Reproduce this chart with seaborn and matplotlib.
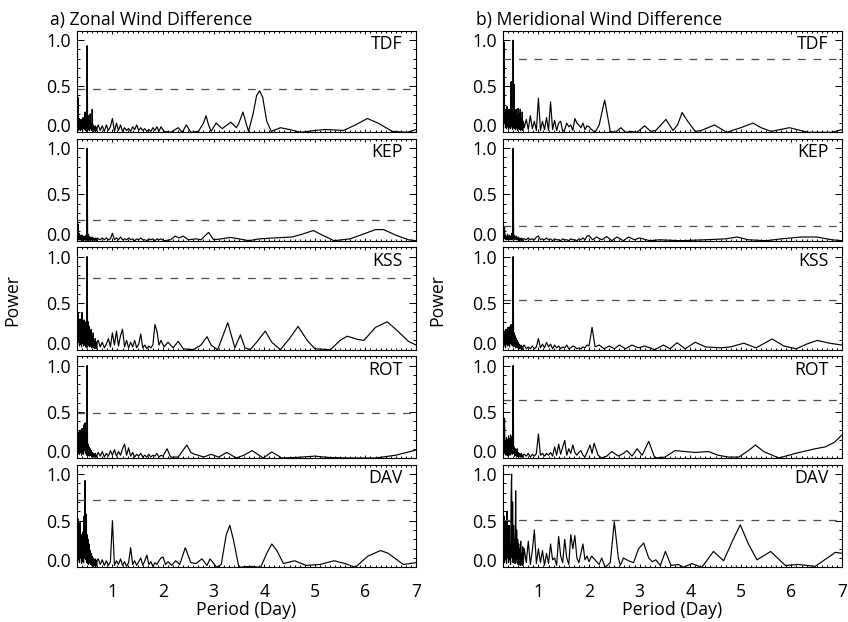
import matplotlib
matplotlib.use("Agg")
import matplotlib.pyplot as plt
import seaborn as sns
import pandas as pd
from matplotlib.ticker import FixedLocator, MultipleLocator, FixedFormatter

# ---------------- data ----------------
STATIONS = ["TDF", "KEP", "KSS", "ROT", "DAV"]
TITLES = ["a) Zonal Wind Difference", "b) Meridional Wind Difference"]
X_TICKS = [1, 2, 3, 4, 5, 6, 7]
Y_TICKS = [0.0, 0.5, 1.0]
Y_TICK_LABELS = ["0.0", "0.5", "1.0"]

# significance levels (dashed lines)
ZONAL_SIG = [0.47, 0.22, 0.765, 0.485, 0.725]
MERID_SIG = [0.80, 0.155, 0.53, 0.628, 0.51]

# period grids (days) for the short-period part of the periodograms
DENSE_P = [0.30, 0.31, 0.32, 0.33, 0.34, 0.35, 0.36, 0.37, 0.38, 0.39,
           0.40, 0.41, 0.42, 0.43, 0.44, 0.45, 0.46, 0.47, 0.48, 0.49,
           0.50, 0.51, 0.52, 0.53, 0.54, 0.55, 0.56, 0.57, 0.58, 0.59,
           0.60, 0.61, 0.62, 0.63, 0.64, 0.65, 0.66, 0.67, 0.68, 0.69,
           0.70]
MID_P = [0.72, 0.76, 0.80, 0.84, 0.88, 0.92, 0.96, 1.00, 1.04, 1.08,
         1.12, 1.16, 1.20, 1.24, 1.28, 1.32, 1.36, 1.40, 1.44, 1.48,
         1.52, 1.56, 1.60, 1.64, 1.68, 1.72, 1.76, 1.80, 1.84, 1.88,
         1.92, 1.96]

# ---- zonal ----
ZON_TDF_DENSE = [0.40, 0.05, 0.38, 0.02, 0.15, 0.03, 0.12, 0.02, 0.14, 0.03,
                 0.10, 0.02, 0.16, 0.04, 0.12, 0.03, 0.22, 0.02, 0.10, 0.01,
                 0.94, 0.02, 0.18, 0.03, 0.12, 0.02, 0.20, 0.04, 0.10, 0.02,
                 0.25, 0.03, 0.08, 0.01, 0.06, 0.02, 0.07, 0.01, 0.05, 0.02,
                 0.06]
ZON_TDF_MID = [0.08, 0.02, 0.07, 0.01, 0.08, 0.02, 0.06, 0.15, 0.01, 0.10,
               0.02, 0.08, 0.01, 0.05, 0.02, 0.04, 0.01, 0.06, 0.03, 0.08,
               0.02, 0.05, 0.02, 0.04, 0.01, 0.03, 0.01, 0.05, 0.02, 0.06,
               0.01, 0.06]
ZON_TDF_LONG = [(2.02, 0.01), (2.15, 0.00), (2.30, 0.05), (2.38, 0.00), (2.46, 0.08),
                (2.55, 0.00), (2.70, 0.01), (2.80, 0.10), (2.85, 0.18), (2.90, 0.08),
                (2.95, 0.01), (3.05, 0.10), (3.17, 0.04), (3.34, 0.11), (3.45, 0.05),
                (3.50, 0.10), (3.58, 0.22), (3.64, 0.10), (3.69, 0.01), (3.78, 0.20),
                (3.85, 0.40), (3.91, 0.45), (3.97, 0.38), (4.05, 0.12), (4.14, 0.01),
                (4.32, 0.05), (4.50, 0.03), (4.72, 0.00), (5.00, 0.02), (5.21, 0.03),
                (5.40, 0.025), (5.57, 0.02), (5.80, 0.08), (6.04, 0.15), (6.25, 0.10),
                (6.53, 0.01), (6.83, 0.00), (7.00, 0.03)]

ZON_KEP_DENSE = [0.21, 0.02, 0.18, 0.01, 0.08, 0.01, 0.06, 0.01, 0.05, 0.00,
                 0.06, 0.01, 0.04, 0.00, 0.05, 0.01, 0.04, 0.00, 0.06, 0.01,
                 1.00, 0.01, 0.07, 0.00, 0.05, 0.01, 0.04, 0.00, 0.03, 0.01,
                 0.04, 0.00, 0.03, 0.01, 0.02, 0.00, 0.03, 0.01, 0.02, 0.00,
                 0.03]
ZON_KEP_MID = [0.02, 0.01, 0.03, 0.01, 0.03, 0.01, 0.02, 0.08, 0.01, 0.03,
               0.01, 0.04, 0.01, 0.02, 0.01, 0.03, 0.01, 0.02, 0.00, 0.02,
               0.01, 0.03, 0.01, 0.01, 0.00, 0.02, 0.01, 0.02, 0.00, 0.02,
               0.01, 0.02]
ZON_KEP_LONG = [(2.02, 0.00), (2.15, 0.01), (2.24, 0.05), (2.32, 0.03), (2.40, 0.05),
                (2.50, 0.01), (2.65, 0.02), (2.75, 0.01), (2.90, 0.09), (3.00, 0.01),
                (3.15, 0.02), (3.33, 0.035), (3.50, 0.02), (3.70, 0.00), (3.90, 0.02),
                (4.20, 0.03), (4.55, 0.04), (4.75, 0.07), (4.97, 0.11), (5.15, 0.06),
                (5.38, 0.00), (5.70, 0.02), (5.95, 0.07), (6.20, 0.12), (6.36, 0.12),
                (6.60, 0.06), (6.85, 0.01), (7.00, 0.00)]

ZON_KSS_DENSE = [0.35, 0.05, 0.40, 0.08, 0.28, 0.04, 0.33, 0.06, 0.30, 0.03,
                 0.40, 0.07, 0.25, 0.04, 0.32, 0.05, 0.22, 0.03, 0.30, 0.02,
                 1.00, 0.03, 0.30, 0.05, 0.25, 0.03, 0.20, 0.04, 0.22, 0.02,
                 0.15, 0.03, 0.18, 0.02, 0.10, 0.01, 0.12, 0.02, 0.08, 0.01,
                 0.09]
ZON_KSS_MID = [0.10, 0.03, 0.08, 0.02, 0.06, 0.12, 0.03, 0.18, 0.05, 0.20,
               0.04, 0.15, 0.22, 0.03, 0.10, 0.02, 0.08, 0.03, 0.10, 0.02,
               0.06, 0.17, 0.02, 0.05, 0.01, 0.04, 0.02, 0.05, 0.27, 0.20,
               0.05, 0.10]
ZON_KSS_LONG = [(2.02, 0.03), (2.10, 0.08), (2.20, 0.02), (2.30, 0.09), (2.40, 0.01),
                (2.60, 0.00), (2.75, 0.05), (2.87, 0.14), (2.95, 0.05), (3.08, 0.00),
                (3.28, 0.29), (3.42, 0.02), (3.53, 0.16), (3.62, 0.02), (3.72, 0.00),
                (3.85, 0.08), (4.02, 0.20), (4.15, 0.08), (4.32, 0.00), (4.50, 0.12),
                (4.67, 0.25), (4.85, 0.10), (5.00, 0.01), (5.31, 0.00), (5.50, 0.10),
                (5.64, 0.145), (5.85, 0.11), (5.97, 0.10), (6.20, 0.24), (6.43, 0.30),
                (6.60, 0.22), (6.85, 0.09), (7.00, 0.05)]

ZON_ROT_DENSE = [0.20, 0.03, 0.28, 0.05, 0.22, 0.04, 0.30, 0.06, 0.26, 0.03,
                 0.32, 0.05, 0.24, 0.04, 0.36, 0.08, 0.38, 0.05, 0.30, 0.03,
                 1.00, 0.02, 0.15, 0.03, 0.12, 0.02, 0.10, 0.03, 0.08, 0.01,
                 0.06, 0.02, 0.05, 0.01, 0.04, 0.01, 0.05, 0.01, 0.03, 0.01,
                 0.04]
ZON_ROT_MID = [0.06, 0.02, 0.07, 0.01, 0.05, 0.02, 0.08, 0.03, 0.09, 0.02,
               0.07, 0.03, 0.10, 0.15, 0.03, 0.11, 0.02, 0.06, 0.01, 0.04,
               0.02, 0.05, 0.01, 0.03, 0.01, 0.04, 0.01, 0.03, 0.02, 0.05,
               0.01, 0.03]
ZON_ROT_LONG = [(2.00, 0.02), (2.08, 0.10), (2.15, 0.01), (2.30, 0.01), (2.47, 0.14),
                (2.55, 0.06), (2.62, 0.04), (2.70, 0.03), (2.80, 0.01), (2.95, 0.04),
                (3.10, 0.01), (3.26, 0.06), (3.45, 0.00), (3.60, 0.03), (3.76, 0.08),
                (3.98, 0.00), (4.15, 0.065), (4.35, 0.00), (4.60, 0.005), (5.00, 0.02),
                (5.30, 0.005), (5.70, 0.00), (6.20, 0.00), (6.60, 0.03), (7.00, 0.086)]

ZON_DAV_DENSE = [0.45, 0.05, 0.52, 0.08, 0.40, 0.05, 0.48, 0.10, 0.35, 0.04,
                 0.30, 0.06, 0.38, 0.05, 0.55, 0.10, 0.93, 0.08, 0.57, 0.05,
                 0.35, 0.04, 0.30, 0.03, 0.25, 0.05, 0.18, 0.03, 0.15, 0.02,
                 0.12, 0.02, 0.10, 0.01, 0.08, 0.02, 0.09, 0.01, 0.07, 0.02,
                 0.08]
ZON_DAV_MID = [0.09, 0.03, 0.08, 0.02, 0.07, 0.02, 0.06, 0.50, 0.02, 0.07,
               0.03, 0.09, 0.02, 0.06, 0.01, 0.05, 0.21, 0.03, 0.07, 0.02,
               0.06, 0.10, 0.02, 0.07, 0.13, 0.03, 0.06, 0.01, 0.05, 0.03,
               0.07, 0.10]
ZON_DAV_LONG = [(2.00, 0.11), (2.05, 0.03), (2.10, 0.06), (2.17, 0.02), (2.25, 0.07),
                (2.33, 0.03), (2.44, 0.21), (2.55, 0.05), (2.65, 0.04), (2.77, 0.09),
                (2.87, 0.02), (2.93, 0.09), (3.06, 0.00), (3.15, 0.03), (3.25, 0.35),
                (3.32, 0.45), (3.39, 0.30), (3.50, 0.00), (3.73, 0.01), (3.93, 0.00),
                (4.05, 0.15), (4.15, 0.25), (4.25, 0.18), (4.38, 0.04), (4.60, 0.07),
                (4.83, 0.02), (5.10, 0.03), (5.38, 0.07), (5.60, 0.04), (5.80, 0.00),
                (6.05, 0.12), (6.30, 0.18), (6.45, 0.15), (6.75, 0.03), (7.00, 0.05)]

# ---- meridional ----
MER_TDF_DENSE = [0.30, 0.05, 0.98, 0.10, 0.25, 0.05, 0.20, 0.04, 0.28, 0.06,
                 0.18, 0.03, 0.25, 0.05, 0.20, 0.04, 0.55, 0.06, 0.22, 0.03,
                 1.00, 0.05, 0.52, 0.04, 0.22, 0.03, 0.25, 0.05, 0.18, 0.02,
                 0.26, 0.04, 0.20, 0.03, 0.25, 0.02, 0.15, 0.03, 0.22, 0.02,
                 0.12]
MER_TDF_MID = [0.05, 0.14, 0.03, 0.18, 0.04, 0.12, 0.02, 0.37, 0.02, 0.12,
               0.03, 0.16, 0.02, 0.33, 0.03, 0.13, 0.02, 0.10, 0.12, 0.01,
               0.03, 0.10, 0.06, 0.08, 0.02, 0.15, 0.10, 0.08, 0.05, 0.10,
               0.03, 0.07]
MER_TDF_LONG = [(2.00, 0.06), (2.05, 0.03), (2.12, 0.00), (2.20, 0.08), (2.31, 0.35),
                (2.42, 0.01), (2.52, 0.00), (2.63, 0.05), (2.72, 0.00), (2.83, 0.01),
                (2.95, 0.00), (3.10, 0.07), (3.22, 0.01), (3.32, 0.02), (3.52, 0.14),
                (3.66, 0.02), (3.75, 0.08), (3.84, 0.215), (3.95, 0.12), (4.10, 0.01),
                (4.22, 0.02), (4.48, 0.08), (4.72, 0.00), (5.00, 0.05), (5.24, 0.10),
                (5.40, 0.05), (5.60, 0.01), (5.96, 0.05), (6.33, 0.00), (6.80, 0.00),
                (7.00, 0.03)]

MER_KEP_DENSE = [0.08, 0.02, 0.05, 0.15, 0.02, 0.06, 0.01, 0.04, 0.02, 0.07,
                 0.01, 0.05, 0.02, 0.06, 0.01, 0.04, 0.02, 0.08, 0.01, 0.05,
                 1.00, 0.02, 0.06, 0.01, 0.04, 0.02, 0.05, 0.01, 0.03, 0.01,
                 0.04, 0.01, 0.03, 0.00, 0.02, 0.01, 0.03, 0.00, 0.02, 0.01,
                 0.02]
MER_KEP_MID = [0.02, 0.01, 0.03, 0.01, 0.02, 0.01, 0.04, 0.05, 0.01, 0.02,
               0.01, 0.03, 0.01, 0.02, 0.00, 0.02, 0.01, 0.01, 0.00, 0.02,
               0.01, 0.01, 0.00, 0.02, 0.01, 0.01, 0.00, 0.02, 0.01, 0.03,
               0.01, 0.05]
MER_KEP_LONG = [(2.00, 0.055), (2.07, 0.01), (2.15, 0.04), (2.25, 0.01), (2.35, 0.045),
                (2.45, 0.00), (2.55, 0.04), (2.68, 0.00), (2.78, 0.04), (2.90, 0.01),
                (3.00, 0.03), (3.20, 0.00), (3.40, 0.01), (3.80, 0.00), (4.30, 0.01),
                (4.70, 0.02), (4.93, 0.04), (5.15, 0.01), (5.50, 0.00), (5.80, 0.02),
                (6.20, 0.04), (6.50, 0.04), (6.80, 0.01), (7.00, 0.00)]

MER_KSS_DENSE = [0.18, 0.03, 0.20, 0.05, 0.15, 0.02, 0.22, 0.06, 0.18, 0.04,
                 0.24, 0.05, 0.20, 0.03, 0.25, 0.07, 0.27, 0.05, 0.26, 0.04,
                 1.00, 0.03, 0.18, 0.04, 0.15, 0.02, 0.12, 0.03, 0.10, 0.02,
                 0.08, 0.01, 0.06, 0.01, 0.04, 0.01, 0.05, 0.00, 0.03, 0.01,
                 0.04]
MER_KSS_MID = [0.05, 0.01, 0.03, 0.01, 0.04, 0.01, 0.03, 0.12, 0.02, 0.06,
               0.02, 0.08, 0.03, 0.06, 0.01, 0.05, 0.02, 0.04, 0.01, 0.03,
               0.02, 0.05, 0.01, 0.02, 0.04, 0.03, 0.01, 0.02, 0.01, 0.03,
               0.02, 0.05]
MER_KSS_LONG = [(2.00, 0.04), (2.06, 0.24), (2.12, 0.03), (2.20, 0.05), (2.30, 0.01),
                (2.40, 0.04), (2.50, 0.01), (2.60, 0.05), (2.72, 0.01), (2.85, 0.05),
                (2.98, 0.02), (3.10, 0.04), (3.30, 0.00), (3.47, 0.05), (3.60, 0.01),
                (3.74, 0.075), (3.90, 0.01), (4.10, 0.08), (4.30, 0.03), (4.60, 0.02),
                (4.80, 0.03), (5.06, 0.07), (5.30, 0.02), (5.62, 0.115), (5.85, 0.04),
                (6.10, 0.01), (6.30, 0.06), (6.51, 0.10), (6.75, 0.07), (7.00, 0.05)]

MER_ROT_DENSE = [0.15, 0.03, 0.20, 0.43, 0.05, 0.18, 0.03, 0.22, 0.04, 0.20,
                 0.02, 0.24, 0.05, 0.21, 0.03, 0.25, 0.06, 0.23, 0.04, 0.25,
                 1.00, 0.05, 0.12, 0.02, 0.10, 0.03, 0.08, 0.01, 0.10, 0.02,
                 0.06, 0.01, 0.05, 0.02, 0.04, 0.01, 0.05, 0.01, 0.03, 0.01,
                 0.04]
MER_ROT_MID = [0.04, 0.02, 0.05, 0.01, 0.04, 0.02, 0.05, 0.26, 0.03, 0.05,
               0.02, 0.05, 0.03, 0.06, 0.02, 0.12, 0.03, 0.15, 0.04, 0.12,
               0.19, 0.03, 0.10, 0.05, 0.14, 0.06, 0.03, 0.06, 0.08, 0.03,
               0.01, 0.06]
MER_ROT_LONG = [(2.02, 0.14), (2.06, 0.05), (2.10, 0.16), (2.18, 0.03), (2.25, 0.00),
                (2.35, 0.02), (2.45, 0.07), (2.58, 0.02), (2.68, 0.05), (2.75, 0.08),
                (2.85, 0.02), (2.95, 0.10), (3.05, 0.03), (3.18, 0.18), (3.30, 0.00),
                (3.50, 0.01), (3.70, 0.08), (3.90, 0.07), (4.10, 0.06), (4.36, 0.07),
                (4.55, 0.03), (4.76, 0.01), (4.96, 0.01), (5.15, 0.08), (5.29, 0.14),
                (5.45, 0.07), (5.75, 0.00), (6.08, 0.05), (6.47, 0.10), (6.67, 0.12),
                (6.85, 0.17), (7.00, 0.25)]

MER_DAV_DENSE = [0.60, 0.10, 0.55, 0.05, 0.35, 0.08, 0.50, 0.04, 0.60, 0.10,
                 0.30, 0.05, 0.45, 0.08, 0.25, 0.03, 0.75, 1.00, 0.10, 0.70,
                 0.05, 0.45, 0.08, 0.30, 0.04, 0.82, 0.10, 0.40, 0.05, 0.30,
                 0.03, 0.25, 0.05, 0.20, 0.02, 0.28, 0.04, 0.15, 0.02, 0.22,
                 0.03]
MER_DAV_MID = [0.20, 0.05, 0.28, 0.03, 0.18, 0.40, 0.04, 0.20, 0.05, 0.18,
               0.02, 0.15, 0.04, 0.25, 0.08, 0.10, 0.02, 0.33, 0.12, 0.05,
               0.30, 0.10, 0.03, 0.35, 0.20, 0.34, 0.10, 0.05, 0.15, 0.25,
               0.08, 0.12]
MER_DAV_LONG = [(2.00, 0.06), (2.05, 0.12), (2.12, 0.08), (2.20, 0.03), (2.25, 0.10),
                (2.32, 0.00), (2.42, 0.05), (2.50, 0.49), (2.58, 0.10), (2.62, 0.02),
                (2.68, 0.10), (2.78, 0.07), (2.88, 0.05), (2.98, 0.20), (3.08, 0.26),
                (3.18, 0.10), (3.25, 0.06), (3.32, 0.08), (3.41, 0.02), (3.51, 0.17),
                (3.62, 0.02), (3.77, 0.03), (3.87, 0.00), (4.03, 0.04), (4.23, 0.00),
                (4.46, 0.17), (4.66, 0.07), (4.85, 0.30), (4.99, 0.455), (5.15, 0.25),
                (5.32, 0.08), (5.59, 0.17), (5.88, 0.02), (6.14, 0.03), (6.47, 0.01),
                (6.87, 0.16), (7.00, 0.15)]

ZONAL = [(ZON_TDF_DENSE, ZON_TDF_MID, ZON_TDF_LONG),
         (ZON_KEP_DENSE, ZON_KEP_MID, ZON_KEP_LONG),
         (ZON_KSS_DENSE, ZON_KSS_MID, ZON_KSS_LONG),
         (ZON_ROT_DENSE, ZON_ROT_MID, ZON_ROT_LONG),
         (ZON_DAV_DENSE, ZON_DAV_MID, ZON_DAV_LONG)]
MERID = [(MER_TDF_DENSE, MER_TDF_MID, MER_TDF_LONG),
         (MER_KEP_DENSE, MER_KEP_MID, MER_KEP_LONG),
         (MER_KSS_DENSE, MER_KSS_MID, MER_KSS_LONG),
         (MER_ROT_DENSE, MER_ROT_MID, MER_ROT_LONG),
         (MER_DAV_DENSE, MER_DAV_MID, MER_DAV_LONG)]


def build_frame(dense, mid, long_pairs):
    periods = DENSE_P + MID_P + [p for p, _ in long_pairs]
    power = list(dense) + list(mid) + [v for _, v in long_pairs]
    return pd.DataFrame({"period": periods, "power": power})


# ---------------- style ----------------
sns.set_theme(style="ticks")
plt.rcParams["font.family"] = ["Open Sans", "DejaVu Sans"]
for key in ["text.color", "axes.labelcolor", "xtick.color", "ytick.color",
            "axes.edgecolor"]:
    plt.rcParams[key] = "black"
FS = 12.7
plt.rcParams["axes.linewidth"] = 0.8

W, H = 848, 622
fig = plt.figure(figsize=(W / 100, H / 100), dpi=100)

COL_LEFT = [77, 503]
AX_W = 339
ROW_TOP = [31, 139, 247.3, 356.3, 464.7]
ROW_BOT = [132.3, 240.7, 349.7, 458.0, 567.3]

for c, (col_data, sig) in enumerate([(ZONAL, ZONAL_SIG), (MERID, MERID_SIG)]):
    for r in range(5):
        ax = fig.add_axes([COL_LEFT[c] / W, 1 - ROW_BOT[r] / H,
                           AX_W / W, (ROW_BOT[r] - ROW_TOP[r]) / H])
        df = build_frame(*col_data[r])
        sns.lineplot(data=df, x="period", y="power", ax=ax, color="black",
                     linewidth=0.85, estimator=None, sort=False)
        ax.axhline(sig[r], color="#4d4d4d", linewidth=0.9, dashes=(6.2, 6.2))
        ax.set_xlim(0.3, 7.0)
        ax.set_ylim(0.0, 1.1)
        ax.set_xlabel("")
        ax.set_ylabel("")
        for s in ax.spines.values():
            s.set_visible(True)
            s.set_color("black")
            s.set_linewidth(0.8)
        ax.xaxis.set_major_locator(FixedLocator(X_TICKS))
        ax.xaxis.set_minor_locator(MultipleLocator(0.1))
        ax.yaxis.set_major_locator(FixedLocator(Y_TICKS))
        ax.yaxis.set_major_formatter(FixedFormatter(Y_TICK_LABELS))
        ax.yaxis.set_minor_locator(MultipleLocator(0.1))
        ax.tick_params(axis="both", which="both", direction="in", top=True,
                       right=True, width=0.7, color="black", labelsize=FS,
                       labelcolor="black")
        ax.tick_params(axis="y", which="major", length=5.0, pad=4.5)
        ax.tick_params(axis="y", which="minor", length=2.5)
        ax.tick_params(axis="x", which="major", length=2.2, pad=11.5)
        ax.tick_params(axis="x", which="minor", length=1.1)
        if r < 4:
            ax.tick_params(axis="x", labelbottom=False)
        for lab in ax.get_yticklabels():
            if lab.get_text() == "0.0":
                lab.set_verticalalignment("baseline")
        ax.text(0.96, 0.87, STATIONS[r], transform=ax.transAxes,
                ha="right", va="center", fontsize=FS, color="black")
        ax.set_facecolor("white")

    # column title, y label, x label
    fig.text((COL_LEFT[c] - 27) / W, 1 - 25 / H, TITLES[c], ha="left",
             va="baseline", fontsize=FS)
    fig.text((12 + 425 * c) / W, 1 - 300 / H, "Power", rotation=90,
             ha="center", va="center", fontsize=FS)
    fig.text((COL_LEFT[c] + AX_W / 2) / W, 1 - 615 / H, "Period (Day)",
             ha="center", va="baseline", fontsize=FS)

fig.savefig("out.png", dpi=100, facecolor="white")
